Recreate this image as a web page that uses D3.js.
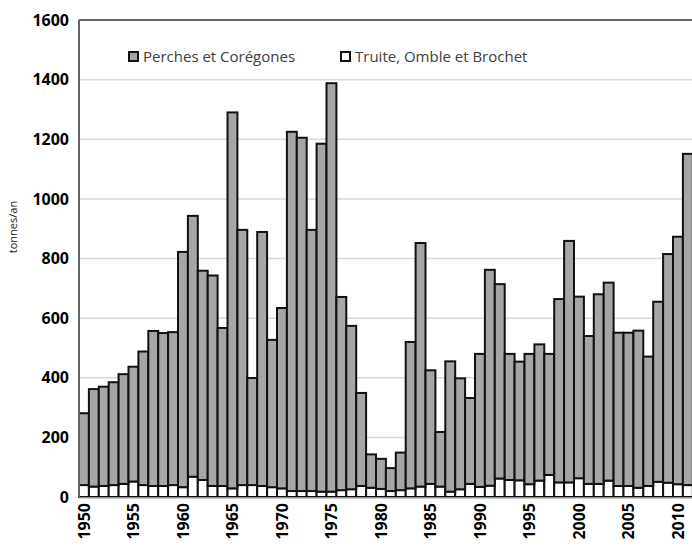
<!DOCTYPE html>
<meta charset="utf-8">
<script src="https://d3js.org/d3.v7.min.js"></script>
<style>
  body { margin: 0; background: #fff; }
  text { font-family: "Open Sans", sans-serif; }
</style>
<div id="chart"></div>
<script>

// years on the x axis
let years = d3.range(1950, 2012);

// total catch per year (tonnes/an)
let totals = [281, 362, 370, 385, 412, 437, 488, 557, 550, 553,
              822, 943, 759, 743, 567, 1290, 896, 399, 889, 527,
              634, 1225, 1205, 896, 1185, 1388, 671, 574, 349, 143,
              128, 97, 149, 520, 852, 425, 218, 455, 398, 332,
              480, 762, 714, 480, 454, 480, 512, 480, 664, 859,
              672, 540, 680, 719, 551, 551, 558, 471, 655, 815,
              873, 1151];

// Truite, Omble et Brochet (bottom part)
let truite = [40, 35, 37, 40, 44, 52, 40, 37, 37, 40,
              33, 68, 57, 37, 37, 29, 40, 40, 37, 33,
              29, 20, 20, 20, 18, 18, 23, 26, 37, 31,
              27, 20, 23, 29, 35, 44, 35, 18, 26, 44,
              34, 38, 62, 57, 56, 43, 55, 74, 49, 49,
              63, 44, 44, 55, 37, 37, 31, 37, 51, 48,
              43, 40];

// Perches et Corégones (top part)
let perches = totals.map(function(t, i) { return t - truite[i]; });

let yTicks = [0, 200, 400, 600, 800, 1000, 1200, 1400, 1600];
let seriesNames = ["Perches et Corégones", "Truite, Omble et Brochet"];
let colors = ["#a6a6a6", "#ffffff"];

let W = 692, H = 555;
let margin = {top: 20, left: 79, bottom: 58};
let plotH = H - margin.top - margin.bottom;

let svg = d3.select("#chart").append("svg")
    .attr("width", W)
    .attr("height", H);

let x = d3.scaleBand()
    .domain(years)
    .range([margin.left, margin.left + years.length * 9.9])
    .padding(0);

let y = d3.scaleLinear()
    .domain([0, 1600])
    .range([margin.top + plotH, margin.top]);

// gridlines
svg.append("g")
  .selectAll("line")
  .data(yTicks.slice(1, -1))
  .enter().append("line")
    .attr("x1", margin.left)
    .attr("x2", W)
    .attr("y1", function(d) { return y(d); })
    .attr("y2", function(d) { return y(d); })
    .style("stroke", "#d9d9d9")
    .style("stroke-width", 1.5);

// y axis labels
let yAxis = svg.append("g")
    .attr("transform", "translate(" + (margin.left - 10) + ",0)")
    .call(d3.axisLeft(y).tickValues(yTicks).tickFormat(d3.format("d"))
      .tickSize(0).tickPadding(0));
yAxis.select(".domain").remove();
yAxis.selectAll("text")
    .style("font-family", "'Open Sans', sans-serif")
    .style("font-size", "16px")
    .style("font-weight", "bold")
    .style("fill", "#000");

// stacked bars, truite at the bottom
let data = years.map(function(yr, i) {
  return {year: yr, truite: truite[i], perches: perches[i]};
});
let stacked = d3.stack().keys(["truite", "perches"])(data);

svg.append("g")
  .selectAll("g")
  .data(stacked)
  .enter().append("g")
    .style("fill", function(d) { return d.key == "truite" ? colors[1] : colors[0]; })
  .selectAll("rect")
  .data(function(d) { return d; })
  .enter().append("rect")
    .attr("x", function(d) { return x(d.data.year); })
    .attr("y", function(d) { return y(d[1]); })
    .attr("width", x.bandwidth())
    .attr("height", function(d) { return y(d[0]) - y(d[1]); })
    .style("stroke", "#111")
    .style("stroke-width", 2);

// frame: top and left, baseline
svg.append("line")
    .attr("x1", margin.left).attr("x2", W)
    .attr("y1", y(1600)).attr("y2", y(1600))
    .style("stroke", "#666").style("stroke-width", 2);
svg.append("line")
    .attr("x1", margin.left).attr("x2", margin.left)
    .attr("y1", y(1600)).attr("y2", y(0))
    .style("stroke", "#666").style("stroke-width", 2);
svg.append("line")
    .attr("x1", margin.left).attr("x2", W)
    .attr("y1", y(0) + 1).attr("y2", y(0) + 1)
    .style("stroke", "#bbb").style("stroke-width", 1.5);

// x axis labels, every 5 years
let xAxis = svg.append("g")
    .attr("transform", "translate(0," + (y(0) + 6) + ")")
    .call(d3.axisBottom(x)
      .tickValues(years.filter(function(d) { return d % 5 == 0; }))
      .tickSize(0).tickPadding(0));
xAxis.select(".domain").remove();
xAxis.selectAll("text")
    .attr("transform", "rotate(-90)")
    .attr("x", 0)
    .attr("y", 0)
    .attr("dy", "0.35em")
    .style("text-anchor", "end")
    .style("font-family", "'Open Sans', sans-serif")
    .style("font-size", "16px")
    .style("font-weight", "bold")
    .style("fill", "#000");

// y axis title
svg.append("text")
    .attr("transform", "translate(17," + 227 + ") rotate(-90)")
    .style("text-anchor", "middle")
    .style("font-size", "11px")
    .style("fill", "#222")
    .text("tonnes/an");

// legend
let legendX = [128, 340];
let legend = svg.append("g")
  .selectAll("g")
  .data(seriesNames)
  .enter().append("g")
    .attr("transform", function(d, i) { return "translate(" + legendX[i] + ",52)"; });
legend.append("rect")
    .attr("x", 1).attr("y", 0)
    .attr("width", 9).attr("height", 9)
    .style("fill", function(d, i) { return colors[i]; })
    .style("stroke", "#111")
    .style("stroke-width", 2);
legend.append("text")
    .attr("x", 15)
    .attr("y", 5)
    .attr("dy", "0.35em")
    .style("font-size", "15px")
    .style("fill", "#404040")
    .text(function(d) { return d; });

</script>
